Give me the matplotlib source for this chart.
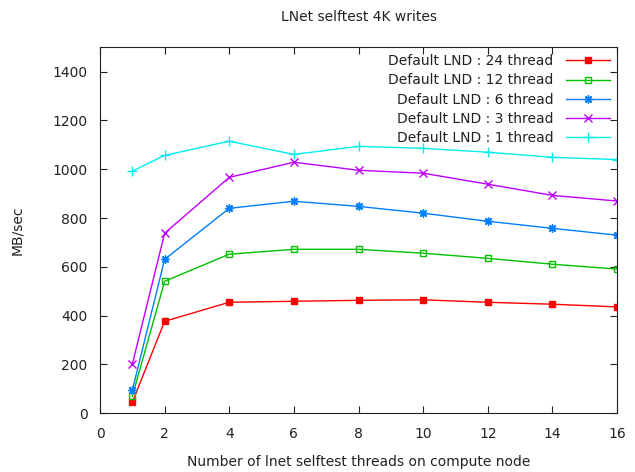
import numpy as np
import matplotlib
matplotlib.use('Agg')
import matplotlib.pyplot as plt

# lnet selftest threads on compute node
threads = [1, 2, 4, 6, 8, 10, 12, 14, 16]

# MB/sec, one list per LND thread count
lnd_24 = [45, 377, 455, 459, 463, 465, 455, 447, 436]
lnd_12 = [70, 541, 652, 672, 672, 656, 635, 611, 591]
lnd_6 = [94, 631, 840, 869, 848, 820, 787, 758, 730]
lnd_3 = [201, 738, 967, 1029, 996, 984, 939, 893, 870]
lnd_1 = [992, 1057, 1115, 1061, 1094, 1086, 1070, 1049, 1040]

labels = ['Default LND : 24 thread', 'Default LND : 12 thread',
          'Default LND : 6 thread', 'Default LND : 3 thread',
          'Default LND : 1 thread']

plt.rcParams['font.family'] = 'DejaVu Sans'
plt.rcParams['font.size'] = 10

fig = plt.figure(figsize=(6.35, 4.72), dpi=100)
ax = fig.add_axes([0.1575, 0.1244, 0.8142, 0.7754])

ax.plot(threads, lnd_24, color='#ff0000', lw=1, marker='s', ms=5,
        mec='#ff0000', mfc='#ff0000', label=labels[0])
ax.plot(threads, lnd_12, color='#00c000', lw=1, marker='s', ms=5,
        mec='#00c000', mfc='none', mew=1, label=labels[1])
ax.plot(threads, lnd_6, color='#0080ff', lw=1, marker=(8, 2, 0), ms=6,
        mec='#0080ff', mew=1, label=labels[2])
ax.plot(threads, lnd_3, color='#c000ff', lw=1, marker='x', ms=6,
        mec='#c000ff', mew=1, label=labels[3])
ax.plot(threads, lnd_1, color='#00eeee', lw=1, marker='+', ms=7,
        mec='#00eeee', mew=1, label=labels[4])

ax.set_xlim(0, 16)
ax.set_ylim(0, 1500)
ax.set_xticks(np.arange(0, 17, 2))
ax.set_yticks(np.arange(0, 1401, 200))
ax.tick_params(direction='in', length=5, top=True, right=True,
               colors='#222222', labelcolor='#222222')
ax.tick_params(axis='x', pad=10)
ax.tick_params(axis='y', pad=9)
for s in ax.spines.values():
    s.set_color('#222222')

ax.set_title('LNet selftest 4K writes', pad=19, fontsize=10, color='#222222')
ax.set_xlabel('Number of lnet selftest threads on compute node', labelpad=10,
              color='#222222')
ax.set_ylabel('MB/sec', labelpad=20, color='#222222')

leg = ax.legend(loc='upper right', frameon=False, markerfirst=False,
                handlelength=3.2, handletextpad=0.9, labelspacing=0.37,
                borderaxespad=0.3, borderpad=0.2)
for t in leg.get_texts():
    t.set_color('#222222')

fig.savefig('out.png', dpi=100)
